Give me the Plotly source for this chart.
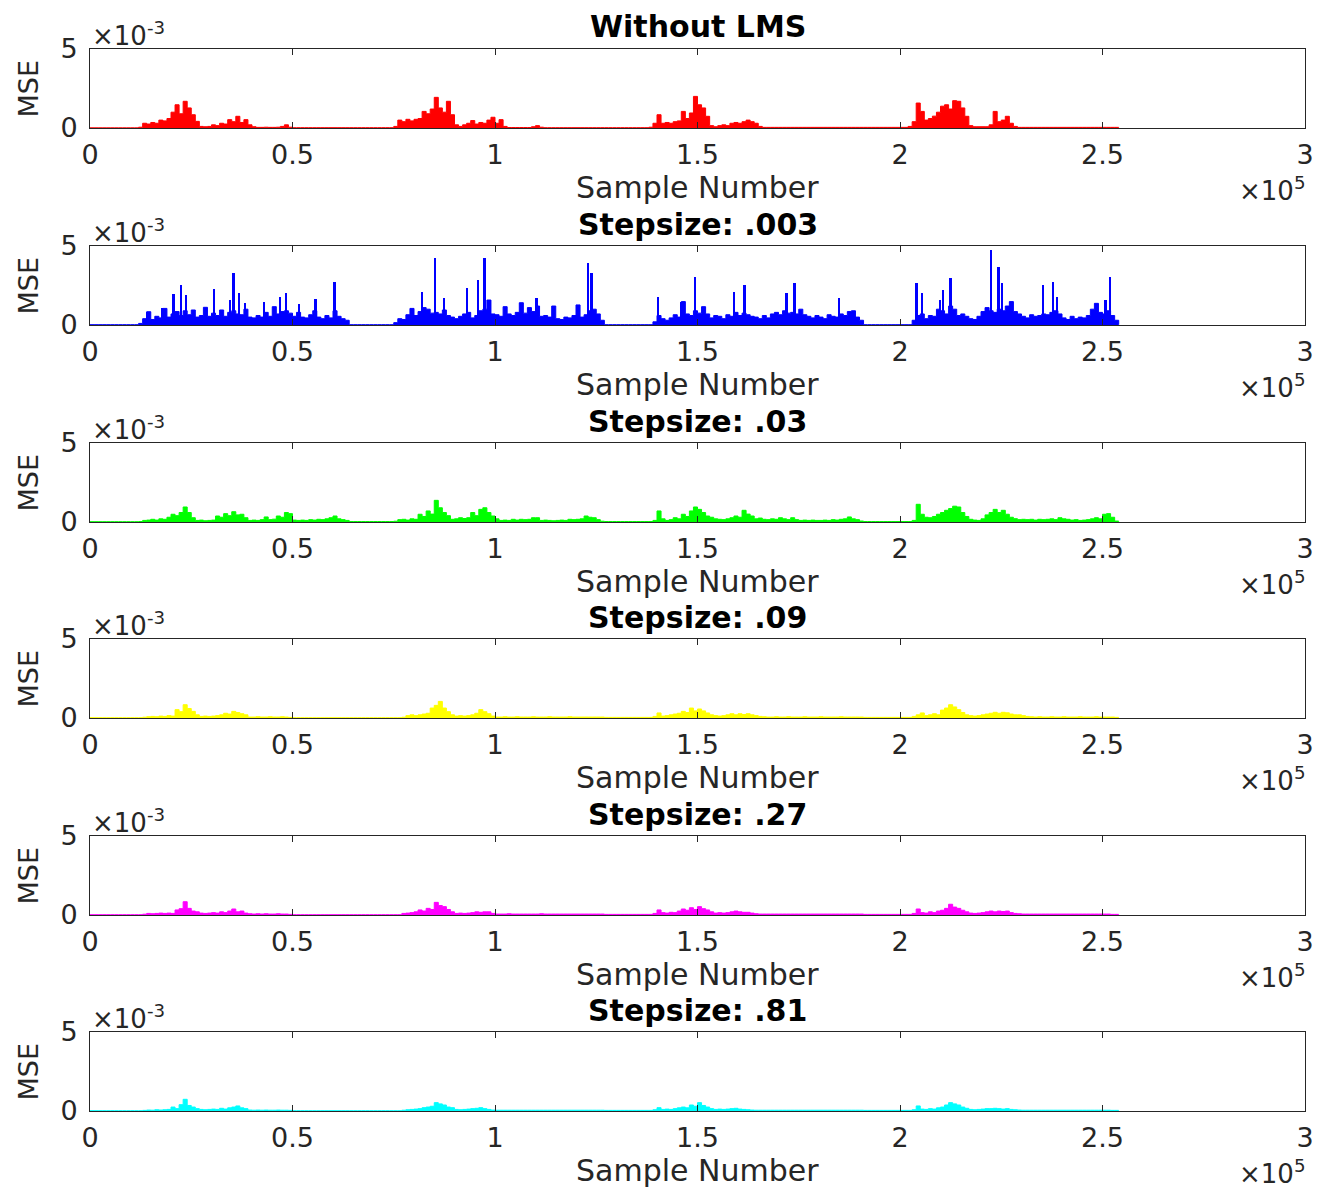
import numpy as np
import plotly.graph_objects as go

# ---------------- data (MSE values in units of 1e-3, one value per 1000 samples) -------------
sample_step = 1000

red_mse = [
    0.01, 0.01, 0.01, 0.01, 0.01, 0.01, 0.01, 0.01, 0.01, 0.01,
    0.01, 0.01, 0.05, 0.30, 0.25, 0.35, 0.30, 0.50, 0.45, 0.60,
    1.00, 1.47, 0.90, 1.69, 1.27, 0.84, 0.42, 0.10, 0.08, 0.10,
    0.20, 0.15, 0.30, 0.25, 0.53, 0.40, 0.74, 0.35, 0.53, 0.20,
    0.08, 0.04, 0.04, 0.05, 0.04, 0.04, 0.05, 0.10, 0.20, 0.05,
    0.02, 0.02, 0.02, 0.02, 0.02, 0.02, 0.02, 0.02, 0.02, 0.02,
    0.02, 0.02, 0.02, 0.02, 0.02, 0.02, 0.02, 0.02, 0.02, 0.02,
    0.02, 0.02, 0.02, 0.02, 0.02, 0.10, 0.50, 0.40, 0.55, 0.45,
    0.55, 0.60, 1.05, 0.90, 1.20, 1.94, 1.27, 1.00, 1.69, 0.84,
    0.20, 0.10, 0.20, 0.30, 0.47, 0.25, 0.35, 0.30, 0.50, 0.68,
    0.30, 0.53, 0.10, 0.03, 0.03, 0.03, 0.03, 0.03, 0.03, 0.08,
    0.15, 0.05, 0.02, 0.02, 0.02, 0.02, 0.02, 0.02, 0.02, 0.02,
    0.02, 0.02, 0.02, 0.02, 0.02, 0.02, 0.02, 0.02, 0.02, 0.02,
    0.02, 0.02, 0.02, 0.02, 0.02, 0.02, 0.02, 0.02, 0.05, 0.30,
    0.84, 0.30, 0.35, 0.30, 0.40, 0.45, 1.05, 0.60, 0.95, 2.00,
    1.47, 1.27, 0.74, 0.15, 0.08, 0.15, 0.20, 0.15, 0.30, 0.35,
    0.30, 0.40, 0.50, 0.40, 0.30, 0.10, 0.04, 0.04, 0.04, 0.04,
    0.04, 0.04, 0.04, 0.04, 0.04, 0.04, 0.04, 0.04, 0.04, 0.04,
    0.04, 0.04, 0.04, 0.04, 0.04, 0.04, 0.04, 0.04, 0.04, 0.04,
    0.04, 0.04, 0.04, 0.04, 0.04, 0.04, 0.04, 0.04, 0.04, 0.04,
    0.04, 0.04, 0.10, 0.40, 1.58, 1.05, 0.50, 0.60, 0.75, 1.00,
    1.38, 1.47, 1.20, 1.73, 1.69, 1.27, 0.74, 0.15, 0.08, 0.08,
    0.08, 0.08, 0.20, 1.05, 0.40, 0.50, 0.74, 0.30, 0.10, 0.04,
    0.04, 0.04, 0.04, 0.04, 0.04, 0.04, 0.04, 0.04, 0.04, 0.04,
    0.04, 0.04, 0.04, 0.04, 0.04, 0.04, 0.04, 0.04, 0.04, 0.04,
    0.04, 0.04, 0.04, 0.04, 0.02,
]

blue_band = [
    0.02, 0.02, 0.02, 0.02, 0.02, 0.02, 0.02, 0.02, 0.02, 0.02,
    0.02, 0.02, 0.10, 0.40, 0.84, 0.35, 0.55, 0.45, 1.05, 0.50,
    0.70, 0.85, 0.60, 0.90, 0.65, 0.95, 0.50, 0.60, 1.12, 0.55,
    0.75, 0.60, 0.95, 0.55, 0.80, 0.90, 0.70, 0.65, 1.00, 0.50,
    0.45, 0.60, 0.50, 0.80, 0.55, 1.16, 0.70, 0.85, 0.90, 0.75,
    0.55, 0.80, 0.50, 0.45, 0.65, 0.90, 0.50, 0.40, 0.60, 0.45,
    0.90, 0.55, 0.40, 0.30, 0.02, 0.02, 0.02, 0.02, 0.02, 0.02,
    0.02, 0.02, 0.02, 0.02, 0.02, 0.15, 0.40, 0.35, 0.65, 1.05,
    0.60, 0.85, 1.10, 1.00, 0.75, 0.80, 0.70, 0.95, 0.60, 0.50,
    0.40, 0.55, 0.70, 0.80, 0.45, 0.60, 0.90, 1.00, 1.58, 0.70,
    0.65, 0.55, 1.16, 0.70, 0.60, 0.80, 1.41, 0.75, 1.10, 0.85,
    1.20, 0.55, 0.60, 0.50, 1.20, 0.40, 0.35, 0.50, 0.45, 0.60,
    1.27, 0.50, 0.65, 0.90, 1.00, 0.70, 0.30, 0.02, 0.02, 0.02,
    0.02, 0.02, 0.02, 0.02, 0.02, 0.02, 0.02, 0.02, 0.02, 0.20,
    0.60, 0.40, 0.30, 0.45, 0.65, 0.50, 1.48, 0.70, 0.60, 0.90,
    0.75, 1.16, 0.70, 0.45, 0.60, 0.55, 0.40, 0.65, 0.55, 0.80,
    0.60, 0.75, 0.65, 0.55, 0.50, 0.40, 0.60, 0.45, 0.70, 0.80,
    0.65, 0.90, 0.75, 0.80, 0.70, 1.00, 0.65, 0.55, 0.45, 0.60,
    0.50, 0.40, 0.65, 0.55, 0.50, 0.70, 0.60, 0.85, 0.90, 0.50,
    0.30, 0.02, 0.02, 0.02, 0.02, 0.02, 0.02, 0.02, 0.02, 0.02,
    0.02, 0.02, 0.02, 0.30, 0.60, 0.70, 0.40, 0.60, 0.55, 1.00,
    0.90, 0.70, 1.20, 1.00, 0.60, 0.70, 0.55, 0.40, 0.35, 0.55,
    0.85, 1.10, 0.90, 0.80, 1.00, 0.90, 1.20, 1.48, 0.85, 0.70,
    0.55, 0.45, 0.65, 0.55, 0.60, 0.70, 0.65, 0.80, 0.90, 0.70,
    0.45, 0.35, 0.55, 0.40, 0.50, 0.45, 0.60, 1.00, 1.37, 0.80,
    0.70, 0.90, 0.60, 0.30, 0.02,
]

# tall isolated spikes of the stepsize .003 curve (position in thousands of samples, height x1e-3)
blue_spike_pos = [14.1, 17.8, 20.7, 22.5, 23.7, 30.6, 34.6, 35.5, 36.8, 38.3, 43.1, 46.9,
                  48.5, 51.7, 55.7, 60.4,
                  82.1, 85.2, 87.4, 93.1, 95.8, 97.5, 98.8, 110.3, 123.0, 123.9,
                  140.3, 146.0, 149.4, 159.0, 161.7, 172.0, 174.0, 185.0,
                  204.1, 205.5, 209.9, 210.7, 212.5, 222.6, 224.4, 225.3, 235.4, 237.8,
                  238.9, 250.8, 251.9]
blue_spike_val = [0.84, 1.05, 1.96, 2.53, 1.90, 2.26, 1.58, 3.27, 2.00, 1.37, 1.48, 1.79,
                  2.00, 1.33, 1.62, 2.74,
                  2.11, 4.22, 1.69, 2.32, 2.85, 4.22, 1.58, 1.69, 3.90, 3.27,
                  1.79, 1.48, 3.06, 2.11, 2.53, 2.00, 2.64, 1.69,
                  2.64, 2.00, 1.58, 2.20, 2.95, 4.75, 3.69, 2.64, 2.53, 2.74,
                  1.79, 1.58, 3.06]

green_mse = [
    0.02, 0.02, 0.02, 0.02, 0.02, 0.02, 0.02, 0.02, 0.02, 0.02,
    0.02, 0.02, 0.03, 0.10, 0.12, 0.17, 0.12, 0.20, 0.17, 0.30,
    0.49, 0.40, 0.60, 0.95, 0.60, 0.27, 0.10, 0.12, 0.08, 0.10,
    0.12, 0.38, 0.30, 0.53, 0.40, 0.65, 0.45, 0.49, 0.27, 0.10,
    0.12, 0.10, 0.15, 0.32, 0.15, 0.18, 0.38, 0.30, 0.60, 0.53,
    0.12, 0.10, 0.12, 0.10, 0.15, 0.12, 0.17, 0.15, 0.20, 0.27,
    0.38, 0.20, 0.15, 0.10, 0.03, 0.03, 0.03, 0.03, 0.03, 0.03,
    0.03, 0.03, 0.03, 0.03, 0.03, 0.05, 0.15, 0.17, 0.12, 0.20,
    0.17, 0.49, 0.35, 0.70, 0.50, 1.37, 0.90, 0.60, 0.40, 0.17,
    0.20, 0.27, 0.22, 0.27, 0.60, 0.40, 0.80, 0.90, 0.60, 0.38,
    0.20, 0.10, 0.12, 0.10, 0.17, 0.12, 0.17, 0.15, 0.17, 0.27,
    0.27, 0.10, 0.12, 0.10, 0.08, 0.10, 0.12, 0.10, 0.17, 0.15,
    0.17, 0.20, 0.38, 0.30, 0.27, 0.15, 0.05, 0.03, 0.03, 0.03,
    0.03, 0.03, 0.03, 0.03, 0.03, 0.03, 0.03, 0.03, 0.03, 0.10,
    0.70, 0.20, 0.10, 0.15, 0.27, 0.20, 0.49, 0.35, 0.70, 0.95,
    0.80, 0.60, 0.38, 0.30, 0.20, 0.17, 0.15, 0.20, 0.27, 0.38,
    0.30, 0.74, 0.50, 0.38, 0.20, 0.25, 0.17, 0.15, 0.20, 0.17,
    0.27, 0.20, 0.15, 0.27, 0.15, 0.10, 0.12, 0.10, 0.12, 0.10,
    0.10, 0.12, 0.10, 0.15, 0.12, 0.17, 0.20, 0.32, 0.20, 0.15,
    0.06, 0.03, 0.03, 0.03, 0.03, 0.03, 0.03, 0.03, 0.03, 0.03,
    0.03, 0.03, 0.03, 0.10, 1.12, 0.49, 0.30, 0.27, 0.35, 0.49,
    0.60, 0.74, 0.85, 1.00, 0.95, 0.60, 0.35, 0.17, 0.12, 0.10,
    0.20, 0.45, 0.60, 0.80, 0.60, 0.74, 0.49, 0.30, 0.21, 0.15,
    0.17, 0.15, 0.17, 0.12, 0.17, 0.15, 0.17, 0.20, 0.15, 0.27,
    0.20, 0.17, 0.12, 0.15, 0.10, 0.12, 0.15, 0.20, 0.27, 0.20,
    0.49, 0.53, 0.30, 0.06, 0.03,
]

yellow_mse = [
    0.02, 0.02, 0.02, 0.02, 0.02, 0.02, 0.02, 0.02, 0.02, 0.02,
    0.02, 0.02, 0.02, 0.05, 0.08, 0.10, 0.08, 0.12, 0.10, 0.15,
    0.12, 0.53, 0.40, 0.84, 0.60, 0.42, 0.20, 0.10, 0.12, 0.10,
    0.12, 0.15, 0.20, 0.30, 0.25, 0.42, 0.35, 0.27, 0.20, 0.06,
    0.06, 0.08, 0.06, 0.06, 0.08, 0.06, 0.06, 0.08, 0.06, 0.04,
    0.02, 0.02, 0.02, 0.02, 0.02, 0.02, 0.02, 0.02, 0.02, 0.02,
    0.02, 0.02, 0.02, 0.02, 0.02, 0.02, 0.02, 0.02, 0.02, 0.02,
    0.02, 0.02, 0.02, 0.02, 0.02, 0.02, 0.02, 0.05, 0.15, 0.20,
    0.15, 0.20, 0.25, 0.30, 0.63, 0.80, 1.05, 0.63, 0.40, 0.20,
    0.12, 0.15, 0.12, 0.15, 0.20, 0.30, 0.53, 0.40, 0.27, 0.12,
    0.06, 0.06, 0.08, 0.06, 0.06, 0.08, 0.06, 0.06, 0.06, 0.08,
    0.06, 0.06, 0.06, 0.08, 0.06, 0.06, 0.06, 0.06, 0.08, 0.06,
    0.06, 0.06, 0.06, 0.06, 0.06, 0.06, 0.06, 0.04, 0.04, 0.04,
    0.04, 0.04, 0.04, 0.04, 0.04, 0.04, 0.04, 0.04, 0.04, 0.10,
    0.32, 0.12, 0.15, 0.20, 0.25, 0.30, 0.42, 0.35, 0.63, 0.45,
    0.57, 0.45, 0.32, 0.20, 0.15, 0.12, 0.15, 0.20, 0.27, 0.20,
    0.27, 0.22, 0.27, 0.20, 0.15, 0.10, 0.08, 0.06, 0.06, 0.08,
    0.06, 0.06, 0.08, 0.06, 0.06, 0.06, 0.08, 0.06, 0.06, 0.06,
    0.08, 0.06, 0.06, 0.06, 0.06, 0.08, 0.06, 0.06, 0.06, 0.06,
    0.06, 0.04, 0.04, 0.04, 0.04, 0.04, 0.04, 0.04, 0.04, 0.04,
    0.04, 0.04, 0.04, 0.10, 0.20, 0.32, 0.15, 0.20, 0.27, 0.20,
    0.50, 0.63, 0.84, 0.70, 0.53, 0.35, 0.20, 0.15, 0.12, 0.15,
    0.20, 0.25, 0.30, 0.36, 0.30, 0.36, 0.33, 0.25, 0.20, 0.20,
    0.15, 0.10, 0.08, 0.06, 0.08, 0.06, 0.06, 0.08, 0.06, 0.06,
    0.08, 0.06, 0.06, 0.06, 0.08, 0.06, 0.06, 0.06, 0.08, 0.06,
    0.06, 0.06, 0.06, 0.04, 0.02,
]

magenta_mse = [
    0.02, 0.02, 0.02, 0.02, 0.02, 0.02, 0.02, 0.02, 0.02, 0.02,
    0.02, 0.02, 0.02, 0.05, 0.10, 0.08, 0.10, 0.12, 0.10, 0.12,
    0.10, 0.32, 0.40, 0.84, 0.42, 0.25, 0.20, 0.12, 0.10, 0.12,
    0.15, 0.12, 0.20, 0.15, 0.25, 0.38, 0.20, 0.25, 0.12, 0.08,
    0.06, 0.08, 0.06, 0.08, 0.06, 0.06, 0.08, 0.06, 0.06, 0.04,
    0.02, 0.02, 0.02, 0.02, 0.02, 0.02, 0.02, 0.02, 0.02, 0.02,
    0.02, 0.02, 0.02, 0.02, 0.02, 0.02, 0.02, 0.02, 0.02, 0.02,
    0.02, 0.02, 0.02, 0.02, 0.02, 0.02, 0.02, 0.10, 0.12, 0.15,
    0.20, 0.32, 0.25, 0.42, 0.35, 0.80, 0.60, 0.53, 0.35, 0.20,
    0.10, 0.12, 0.10, 0.12, 0.15, 0.20, 0.17, 0.20, 0.20, 0.10,
    0.06, 0.06, 0.06, 0.08, 0.06, 0.06, 0.06, 0.06, 0.06, 0.06,
    0.06, 0.08, 0.06, 0.06, 0.06, 0.06, 0.06, 0.06, 0.06, 0.06,
    0.06, 0.06, 0.06, 0.06, 0.06, 0.06, 0.06, 0.04, 0.04, 0.04,
    0.04, 0.04, 0.04, 0.04, 0.04, 0.04, 0.04, 0.04, 0.04, 0.10,
    0.32, 0.15, 0.12, 0.17, 0.15, 0.25, 0.38, 0.30, 0.46, 0.35,
    0.53, 0.40, 0.32, 0.20, 0.12, 0.15, 0.12, 0.15, 0.20, 0.25,
    0.20, 0.17, 0.17, 0.12, 0.08, 0.06, 0.06, 0.06, 0.06, 0.06,
    0.06, 0.06, 0.06, 0.06, 0.06, 0.06, 0.06, 0.06, 0.06, 0.06,
    0.06, 0.06, 0.06, 0.06, 0.06, 0.06, 0.06, 0.06, 0.06, 0.06,
    0.06, 0.04, 0.04, 0.04, 0.04, 0.04, 0.04, 0.04, 0.04, 0.04,
    0.04, 0.04, 0.04, 0.10, 0.38, 0.15, 0.12, 0.20, 0.15, 0.25,
    0.30, 0.42, 0.68, 0.50, 0.42, 0.30, 0.20, 0.12, 0.10, 0.12,
    0.15, 0.20, 0.25, 0.20, 0.25, 0.22, 0.25, 0.15, 0.10, 0.08,
    0.06, 0.06, 0.06, 0.06, 0.06, 0.06, 0.06, 0.06, 0.06, 0.06,
    0.06, 0.06, 0.06, 0.06, 0.06, 0.06, 0.06, 0.06, 0.06, 0.06,
    0.06, 0.06, 0.04, 0.04, 0.02,
]

cyan_mse = [
    0.02, 0.02, 0.02, 0.02, 0.02, 0.02, 0.02, 0.02, 0.02, 0.02,
    0.02, 0.02, 0.02, 0.04, 0.06, 0.05, 0.08, 0.06, 0.08, 0.10,
    0.25, 0.15, 0.40, 0.74, 0.35, 0.25, 0.15, 0.10, 0.08, 0.10,
    0.12, 0.10, 0.17, 0.12, 0.20, 0.25, 0.32, 0.20, 0.15, 0.06,
    0.05, 0.06, 0.05, 0.06, 0.05, 0.05, 0.06, 0.05, 0.05, 0.04,
    0.02, 0.02, 0.02, 0.02, 0.02, 0.02, 0.02, 0.02, 0.02, 0.02,
    0.02, 0.02, 0.02, 0.02, 0.02, 0.02, 0.02, 0.02, 0.02, 0.02,
    0.02, 0.02, 0.02, 0.02, 0.02, 0.02, 0.02, 0.05, 0.08, 0.10,
    0.12, 0.15, 0.21, 0.25, 0.30, 0.53, 0.45, 0.38, 0.25, 0.21,
    0.10, 0.08, 0.10, 0.12, 0.15, 0.17, 0.21, 0.15, 0.10, 0.06,
    0.05, 0.05, 0.05, 0.05, 0.05, 0.05, 0.05, 0.05, 0.05, 0.05,
    0.05, 0.05, 0.05, 0.05, 0.05, 0.05, 0.05, 0.05, 0.05, 0.05,
    0.05, 0.05, 0.05, 0.05, 0.05, 0.05, 0.05, 0.04, 0.04, 0.04,
    0.04, 0.04, 0.04, 0.04, 0.04, 0.04, 0.04, 0.04, 0.04, 0.08,
    0.21, 0.10, 0.12, 0.10, 0.15, 0.20, 0.25, 0.20, 0.38, 0.30,
    0.53, 0.35, 0.25, 0.15, 0.10, 0.12, 0.10, 0.12, 0.15, 0.17,
    0.12, 0.10, 0.08, 0.06, 0.05, 0.05, 0.05, 0.05, 0.05, 0.05,
    0.05, 0.05, 0.05, 0.05, 0.05, 0.05, 0.05, 0.05, 0.05, 0.05,
    0.05, 0.05, 0.05, 0.05, 0.05, 0.05, 0.05, 0.05, 0.05, 0.05,
    0.05, 0.04, 0.04, 0.04, 0.04, 0.04, 0.04, 0.04, 0.04, 0.04,
    0.04, 0.04, 0.04, 0.08, 0.32, 0.12, 0.10, 0.15, 0.12, 0.20,
    0.25, 0.38, 0.53, 0.45, 0.38, 0.25, 0.17, 0.10, 0.08, 0.10,
    0.12, 0.15, 0.15, 0.17, 0.15, 0.12, 0.15, 0.10, 0.08, 0.06,
    0.05, 0.05, 0.05, 0.05, 0.05, 0.05, 0.05, 0.05, 0.05, 0.05,
    0.05, 0.05, 0.05, 0.05, 0.05, 0.05, 0.05, 0.05, 0.05, 0.05,
    0.05, 0.05, 0.04, 0.04, 0.02,
]

panel_titles = ["Without LMS", "Stepsize: .003", "Stepsize: .03",
                "Stepsize: .09", "Stepsize: .27", "Stepsize: .81"]
panel_colors = ["#ff0000", "#0000ff", "#00ff00", "#ffff00", "#ff00ff", "#00ffff"]
panel_series = [red_mse, blue_band, green_mse, yellow_mse, magenta_mse, cyan_mse]

x_tick_vals = [0, 50000, 100000, 150000, 200000, 250000, 300000]
x_tick_text = ["0", "0.5", "1", "1.5", "2", "2.5", "3"]
y_tick_vals = [0, 0.005]
y_tick_text = ["0", "5"]
x_label = "Sample Number"
y_label = "MSE"

# ---------------- layout geometry (pixels) ----------------
W, H = 1321, 1188
left_px, right_px = 90, 1305
tops_px = [49, 246, 443, 639, 836, 1032]
box_h = 79
axis_color = "#262626"
FONT = "DejaVu Sans"


def py(p):
    return 1 - p / H


def px(p):
    return p / W


fig = go.Figure()
annotations = []

for k in range(6):
    n = k + 1
    xa, ya = f"x{n}" if n > 1 else "x", f"y{n}" if n > 1 else "y"
    vals = np.array(panel_series[k]) * 1e-3
    xs = np.arange(len(vals)) * sample_step
    col = panel_colors[k]
    fig.add_trace(go.Scatter(
        x=xs, y=vals, mode="lines", line=dict(color=col, width=1, shape="hv"),
        fill="tozeroy", fillcolor=col, xaxis=xa, yaxis=ya,
        hoverinfo="skip", showlegend=False))
    if k == 1:
        fig.add_trace(go.Bar(
            x=np.array(blue_spike_pos) * 1000, y=np.array(blue_spike_val) * 1e-3,
            width=450, marker=dict(color=col, line=dict(width=0)),
            xaxis=xa, yaxis=ya, hoverinfo="skip", showlegend=False))

    top, bot = tops_px[k], tops_px[k] + box_h
    fig.layout[f"xaxis{n}" if n > 1 else "xaxis"] = dict(
        domain=[px(left_px), px(right_px)], range=[0, 300000],
        tickvals=x_tick_vals, ticktext=x_tick_text,
        ticks="inside", ticklen=6, tickwidth=1, tickcolor=axis_color,
        showline=True, linecolor=axis_color, linewidth=1, mirror="ticks",
        showgrid=False, zeroline=False, anchor=ya, ticklabelstandoff=3,
        automargin=False,
        tickfont=dict(family=FONT, size=27, color=axis_color))
    fig.layout[f"yaxis{n}" if n > 1 else "yaxis"] = dict(
        domain=[py(bot), py(top)], range=[0, 0.005],
        tickvals=y_tick_vals, ticktext=y_tick_text,
        ticks="inside", ticklen=6, tickwidth=1, tickcolor=axis_color,
        showline=True, linecolor=axis_color, linewidth=1, mirror="ticks",
        showgrid=False, zeroline=False, anchor=xa, ticklabelstandoff=6,
        automargin=False,
        tickfont=dict(family=FONT, size=27, color=axis_color))

    cx = (left_px + right_px) / 2
    annotations.append(dict(
        text=f"<b>{panel_titles[k]}</b>", x=px(cx), y=py(top - 22),
        xref="paper", yref="paper", xanchor="center", yanchor="middle",
        showarrow=False, font=dict(family=FONT, size=30, color="black")))
    annotations.append(dict(
        text="×10<sup>-3</sup>", x=px(left_px), y=py(top - 15),
        xref="paper", yref="paper", xanchor="left", yanchor="middle",
        showarrow=False, font=dict(family=FONT, size=26, color=axis_color)))
    annotations.append(dict(
        text=y_label, x=px(28), y=py(top + box_h / 2),
        xref="paper", yref="paper", xanchor="center", yanchor="middle",
        textangle=-90, showarrow=False,
        font=dict(family=FONT, size=27, color=axis_color)))
    annotations.append(dict(
        text=x_label, x=px(cx), y=py(bot + 59),
        xref="paper", yref="paper", xanchor="center", yanchor="middle",
        showarrow=False, font=dict(family=FONT, size=30, color=axis_color)))
    annotations.append(dict(
        text="×10<sup>5</sup>", x=px(right_px + 2), y=py(bot + 61),
        xref="paper", yref="paper", xanchor="right", yanchor="middle",
        showarrow=False, font=dict(family=FONT, size=26, color=axis_color)))

fig.update_layout(
    width=W, height=H,
    margin=dict(l=0, r=0, t=0, b=0, pad=0, autoexpand=False),
    paper_bgcolor="white", plot_bgcolor="white", template="none",
    showlegend=False, annotations=annotations, bargap=0)

fig.write_html("out.html")
